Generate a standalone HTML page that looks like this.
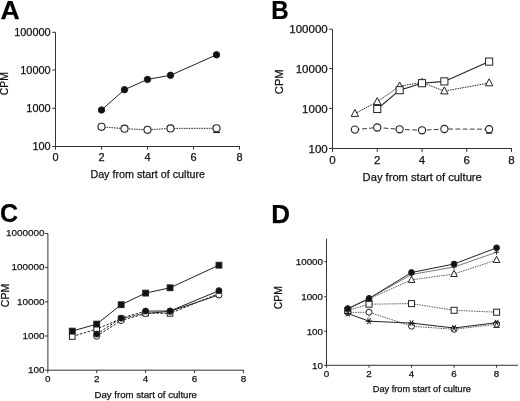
<!DOCTYPE html>
<html><head><meta charset="utf-8"><style>
html,body{margin:0;padding:0;background:#fff;}
svg{display:block;will-change:transform;}
text{font-family:"Liberation Sans", sans-serif;stroke:#111;stroke-width:0.25px;paint-order:stroke;}
</style></head><body>
<svg width="520" height="401" viewBox="0 0 520 401">
<rect width="520" height="401" fill="#fff"/>
<text x="0.4" y="19.4" font-size="26.6" text-anchor="start" font-weight="bold" fill="#000">A</text>
<line x1="55.5" y1="32.3" x2="55.5" y2="146.5" stroke="#333" stroke-width="1.0"/>
<line x1="55.5" y1="146.5" x2="240.0" y2="146.5" stroke="#333" stroke-width="1.0"/>
<line x1="52.3" y1="32.3" x2="55.5" y2="32.3" stroke="#333" stroke-width="1.0"/>
<text x="50.7" y="36.242" font-size="10.95" text-anchor="end" font-weight="normal" fill="#111">100000</text>
<line x1="52.3" y1="70.0" x2="55.5" y2="70.0" stroke="#333" stroke-width="1.0"/>
<text x="50.7" y="73.942" font-size="10.95" text-anchor="end" font-weight="normal" fill="#111">10000</text>
<line x1="52.3" y1="108.3" x2="55.5" y2="108.3" stroke="#333" stroke-width="1.0"/>
<text x="50.7" y="112.24199999999999" font-size="10.95" text-anchor="end" font-weight="normal" fill="#111">1000</text>
<line x1="52.3" y1="146.5" x2="55.5" y2="146.5" stroke="#333" stroke-width="1.0"/>
<text x="50.7" y="150.442" font-size="10.95" text-anchor="end" font-weight="normal" fill="#111">100</text>
<line x1="55.5" y1="146.5" x2="55.5" y2="149.7" stroke="#333" stroke-width="1.0"/>
<text x="55.5" y="161.184" font-size="10.95" text-anchor="middle" font-weight="normal" fill="#111">0</text>
<line x1="101.5" y1="146.5" x2="101.5" y2="149.7" stroke="#333" stroke-width="1.0"/>
<text x="101.5" y="161.184" font-size="10.95" text-anchor="middle" font-weight="normal" fill="#111">2</text>
<line x1="147.5" y1="146.5" x2="147.5" y2="149.7" stroke="#333" stroke-width="1.0"/>
<text x="147.5" y="161.184" font-size="10.95" text-anchor="middle" font-weight="normal" fill="#111">4</text>
<line x1="193.5" y1="146.5" x2="193.5" y2="149.7" stroke="#333" stroke-width="1.0"/>
<text x="193.5" y="161.184" font-size="10.95" text-anchor="middle" font-weight="normal" fill="#111">6</text>
<line x1="239.5" y1="146.5" x2="239.5" y2="149.7" stroke="#333" stroke-width="1.0"/>
<text x="239.5" y="161.184" font-size="10.95" text-anchor="middle" font-weight="normal" fill="#111">8</text>
<text x="90.4" y="178.3" font-size="10.74" text-anchor="start" font-weight="normal" fill="#111">Day from start of culture</text>
<text x="8.4" y="83.6" font-size="10.4" text-anchor="middle" font-weight="normal" fill="#111" transform="rotate(-90 8.4 83.6)">CPM</text>
<polyline points="101.5,110.0 124.5,89.7 147.5,79.4 170.5,75.3 216.5,54.8" fill="none" stroke="#222" stroke-width="1.0"/>
<polyline points="101.5,126.8 124.5,128.7 147.5,129.8 170.5,128.4 216.5,128.3" fill="none" stroke="#222" stroke-width="1.0" stroke-dasharray="1.5,1"/>
<line x1="213.2" y1="132.5" x2="220.0" y2="132.5" stroke="#222" stroke-width="1.1"/>
<circle cx="101.5" cy="110.0" r="3.2" fill="#111" stroke="#222" stroke-width="1.0"/>
<circle cx="124.5" cy="89.7" r="3.2" fill="#111" stroke="#222" stroke-width="1.0"/>
<circle cx="147.5" cy="79.4" r="3.2" fill="#111" stroke="#222" stroke-width="1.0"/>
<circle cx="170.5" cy="75.3" r="3.2" fill="#111" stroke="#222" stroke-width="1.0"/>
<circle cx="216.5" cy="54.8" r="3.2" fill="#111" stroke="#222" stroke-width="1.0"/>
<circle cx="101.5" cy="126.8" r="3.55" fill="#fff" stroke="#222" stroke-width="1.1"/>
<circle cx="124.5" cy="128.7" r="3.55" fill="#fff" stroke="#222" stroke-width="1.1"/>
<circle cx="147.5" cy="129.8" r="3.55" fill="#fff" stroke="#222" stroke-width="1.1"/>
<circle cx="170.5" cy="128.4" r="3.55" fill="#fff" stroke="#222" stroke-width="1.1"/>
<circle cx="216.5" cy="128.3" r="3.55" fill="#fff" stroke="#222" stroke-width="1.1"/>
<g transform="translate(271.3 0) scale(0.93 1) translate(-271.3 0)">
<text x="271.3" y="19.4" font-size="26" text-anchor="start" font-weight="bold" fill="#000">B</text>
</g>
<line x1="332.5" y1="29.2" x2="332.5" y2="148.5" stroke="#333" stroke-width="1.0"/>
<line x1="332.5" y1="148.5" x2="512.0" y2="148.5" stroke="#333" stroke-width="1.0"/>
<line x1="329.1" y1="29.2" x2="332.5" y2="29.2" stroke="#333" stroke-width="1.0"/>
<text x="327.7" y="33.339999999999996" font-size="11.5" text-anchor="end" font-weight="normal" fill="#111">100000</text>
<line x1="329.1" y1="68.6" x2="332.5" y2="68.6" stroke="#333" stroke-width="1.0"/>
<text x="327.7" y="72.74" font-size="11.5" text-anchor="end" font-weight="normal" fill="#111">10000</text>
<line x1="329.1" y1="108.4" x2="332.5" y2="108.4" stroke="#333" stroke-width="1.0"/>
<text x="327.7" y="112.54" font-size="11.5" text-anchor="end" font-weight="normal" fill="#111">1000</text>
<line x1="329.1" y1="148.5" x2="332.5" y2="148.5" stroke="#333" stroke-width="1.0"/>
<text x="327.7" y="152.64" font-size="11.5" text-anchor="end" font-weight="normal" fill="#111">100</text>
<line x1="332.5" y1="148.5" x2="332.5" y2="151.9" stroke="#333" stroke-width="1.0"/>
<text x="332.5" y="163.78" font-size="11.5" text-anchor="middle" font-weight="normal" fill="#111">0</text>
<line x1="377.25" y1="148.5" x2="377.25" y2="151.9" stroke="#333" stroke-width="1.0"/>
<text x="377.25" y="163.78" font-size="11.5" text-anchor="middle" font-weight="normal" fill="#111">2</text>
<line x1="422.0" y1="148.5" x2="422.0" y2="151.9" stroke="#333" stroke-width="1.0"/>
<text x="422.0" y="163.78" font-size="11.5" text-anchor="middle" font-weight="normal" fill="#111">4</text>
<line x1="466.75" y1="148.5" x2="466.75" y2="151.9" stroke="#333" stroke-width="1.0"/>
<text x="466.75" y="163.78" font-size="11.5" text-anchor="middle" font-weight="normal" fill="#111">6</text>
<line x1="511.5" y1="148.5" x2="511.5" y2="151.9" stroke="#333" stroke-width="1.0"/>
<text x="511.5" y="163.78" font-size="11.5" text-anchor="middle" font-weight="normal" fill="#111">8</text>
<text x="362.6" y="181.0" font-size="11.18" text-anchor="start" font-weight="normal" fill="#111">Day from start of culture</text>
<text x="283.0" y="81.75" font-size="11.2" text-anchor="middle" font-weight="normal" fill="#111" transform="rotate(-90 283.0 81.75)">CPM</text>
<polyline points="354.875,113.6 377.25,101.8 399.625,86.2 422.0,82.5 444.375,91.1 489.125,83.0" fill="none" stroke="#222" stroke-width="1.0" stroke-dasharray="1.5,1"/>
<polyline points="377.25,109.0 399.625,90.2 422.0,83.2 444.375,81.4 489.125,61.6" fill="none" stroke="#222" stroke-width="1.1"/>
<polyline points="354.875,129.6 377.25,127.5 399.625,129.3 422.0,130.3 444.375,129.0 489.125,129.2" fill="none" stroke="#222" stroke-width="0.9" stroke-dasharray="4.8,2.4"/>
<line x1="485.925" y1="133.2" x2="492.325" y2="133.2" stroke="#222" stroke-width="1.0"/>
<polygon points="354.875,109.38199999999999 351.175,116.41199999999999 358.575,116.41199999999999" fill="#fff" stroke="#222" stroke-width="1.0"/>
<polygon points="377.25,97.582 373.55,104.612 380.95,104.612" fill="#fff" stroke="#222" stroke-width="1.0"/>
<polygon points="399.625,81.982 395.925,89.012 403.325,89.012" fill="#fff" stroke="#222" stroke-width="1.0"/>
<polygon points="422.0,78.282 418.3,85.312 425.7,85.312" fill="#fff" stroke="#222" stroke-width="1.0"/>
<polygon points="444.375,86.88199999999999 440.675,93.91199999999999 448.075,93.91199999999999" fill="#fff" stroke="#222" stroke-width="1.0"/>
<polygon points="489.125,78.782 485.425,85.812 492.825,85.812" fill="#fff" stroke="#222" stroke-width="1.0"/>
<rect x="373.7" y="105.45" width="7.1" height="7.1" fill="#fff" stroke="#222" stroke-width="1.0"/>
<rect x="396.075" y="86.65" width="7.1" height="7.1" fill="#fff" stroke="#222" stroke-width="1.0"/>
<rect x="418.45" y="79.65" width="7.1" height="7.1" fill="#fff" stroke="#222" stroke-width="1.0"/>
<rect x="440.825" y="77.85000000000001" width="7.1" height="7.1" fill="#fff" stroke="#222" stroke-width="1.0"/>
<rect x="485.575" y="58.050000000000004" width="7.1" height="7.1" fill="#fff" stroke="#222" stroke-width="1.0"/>
<circle cx="354.875" cy="129.6" r="3.6" fill="#fff" stroke="#222" stroke-width="1.1"/>
<circle cx="377.25" cy="127.5" r="3.6" fill="#fff" stroke="#222" stroke-width="1.1"/>
<circle cx="399.625" cy="129.3" r="3.6" fill="#fff" stroke="#222" stroke-width="1.1"/>
<circle cx="422.0" cy="130.3" r="3.6" fill="#fff" stroke="#222" stroke-width="1.1"/>
<circle cx="444.375" cy="129.0" r="3.6" fill="#fff" stroke="#222" stroke-width="1.1"/>
<circle cx="489.125" cy="129.2" r="3.6" fill="#fff" stroke="#222" stroke-width="1.1"/>
<text x="0.0" y="222.4" font-size="25" text-anchor="start" font-weight="bold" fill="#000">C</text>
<line x1="47.9" y1="233.5" x2="47.9" y2="370.2" stroke="#333" stroke-width="1.0"/>
<line x1="47.9" y1="370.2" x2="243.9" y2="370.2" stroke="#333" stroke-width="1.0"/>
<line x1="45.1" y1="233.5" x2="47.9" y2="233.5" stroke="#333" stroke-width="1.0"/>
<text x="44.4" y="236.364" font-size="9.9" text-anchor="end" font-weight="normal" fill="#111">1000000</text>
<line x1="45.1" y1="267.6" x2="47.9" y2="267.6" stroke="#333" stroke-width="1.0"/>
<text x="44.4" y="270.46400000000006" font-size="9.9" text-anchor="end" font-weight="normal" fill="#111">100000</text>
<line x1="45.1" y1="301.9" x2="47.9" y2="301.9" stroke="#333" stroke-width="1.0"/>
<text x="44.4" y="304.764" font-size="9.9" text-anchor="end" font-weight="normal" fill="#111">10000</text>
<line x1="45.1" y1="336.0" x2="47.9" y2="336.0" stroke="#333" stroke-width="1.0"/>
<text x="44.4" y="338.86400000000003" font-size="9.9" text-anchor="end" font-weight="normal" fill="#111">1000</text>
<line x1="45.1" y1="370.2" x2="47.9" y2="370.2" stroke="#333" stroke-width="1.0"/>
<text x="44.4" y="373.064" font-size="9.9" text-anchor="end" font-weight="normal" fill="#111">100</text>
<line x1="47.8" y1="370.2" x2="47.8" y2="373.0" stroke="#333" stroke-width="1.0"/>
<text x="47.8" y="382.328" font-size="9.9" text-anchor="middle" font-weight="normal" fill="#111">0</text>
<line x1="96.69999999999999" y1="370.2" x2="96.69999999999999" y2="373.0" stroke="#333" stroke-width="1.0"/>
<text x="96.69999999999999" y="382.328" font-size="9.9" text-anchor="middle" font-weight="normal" fill="#111">2</text>
<line x1="145.6" y1="370.2" x2="145.6" y2="373.0" stroke="#333" stroke-width="1.0"/>
<text x="145.6" y="382.328" font-size="9.9" text-anchor="middle" font-weight="normal" fill="#111">4</text>
<line x1="194.5" y1="370.2" x2="194.5" y2="373.0" stroke="#333" stroke-width="1.0"/>
<text x="194.5" y="382.328" font-size="9.9" text-anchor="middle" font-weight="normal" fill="#111">6</text>
<line x1="243.39999999999998" y1="370.2" x2="243.39999999999998" y2="373.0" stroke="#333" stroke-width="1.0"/>
<text x="243.39999999999998" y="382.328" font-size="9.9" text-anchor="middle" font-weight="normal" fill="#111">8</text>
<text x="94.6" y="397.9" font-size="9.6" text-anchor="start" font-weight="normal" fill="#111">Day from start of culture</text>
<text x="8.7" y="295.5" font-size="10.6" text-anchor="middle" font-weight="normal" fill="#111" transform="rotate(-90 8.7 295.5)">CPM</text>
<polyline points="72.25,331.1 96.69999999999999,324.1 121.14999999999999,304.7 145.6,293.1 170.05,287.8 218.95,265.2" fill="none" stroke="#222" stroke-width="1.0"/>
<polyline points="72.25,336.5 96.69999999999999,329.0 121.14999999999999,318.8 145.6,313.0 170.05,313.4 218.95,293.5" fill="none" stroke="#222" stroke-width="1.0" stroke-dasharray="2.5,1.5"/>
<polyline points="96.69999999999999,334.1 121.14999999999999,318.2 145.6,311.1" fill="none" stroke="#222" stroke-width="1.0" stroke-dasharray="2.5,1.5"/>
<polyline points="145.6,311.1 170.05,311.0 218.95,290.7" fill="none" stroke="#222" stroke-width="1.0"/>
<polyline points="96.69999999999999,336.2 121.14999999999999,320.5 145.6,313.6" fill="none" stroke="#222" stroke-width="1.0" stroke-dasharray="2.5,1.5"/>
<polyline points="145.6,313.6 170.05,311.3 218.95,294.9" fill="none" stroke="#222" stroke-width="1.0"/>
<rect x="69.45" y="333.7" width="5.6" height="5.6" fill="#fff" stroke="#222" stroke-width="1.0"/>
<rect x="93.89999999999999" y="326.2" width="5.6" height="5.6" fill="#fff" stroke="#222" stroke-width="1.0"/>
<rect x="118.35" y="316.0" width="5.6" height="5.6" fill="#fff" stroke="#222" stroke-width="1.0"/>
<rect x="142.79999999999998" y="310.2" width="5.6" height="5.6" fill="#fff" stroke="#222" stroke-width="1.0"/>
<rect x="167.25" y="310.59999999999997" width="5.6" height="5.6" fill="#fff" stroke="#222" stroke-width="1.0"/>
<circle cx="96.69999999999999" cy="336.2" r="3.1" fill="#fff" stroke="#222" stroke-width="1.0"/>
<circle cx="121.14999999999999" cy="320.5" r="3.1" fill="#fff" stroke="#222" stroke-width="1.0"/>
<circle cx="145.6" cy="313.6" r="3.1" fill="#fff" stroke="#222" stroke-width="1.0"/>
<circle cx="170.05" cy="311.3" r="3.1" fill="#fff" stroke="#222" stroke-width="1.0"/>
<circle cx="218.95" cy="294.9" r="3.1" fill="#fff" stroke="#222" stroke-width="1.0"/>
<circle cx="96.69999999999999" cy="334.1" r="3.0" fill="#111" stroke="#222" stroke-width="1.0"/>
<circle cx="121.14999999999999" cy="318.2" r="3.0" fill="#111" stroke="#222" stroke-width="1.0"/>
<circle cx="145.6" cy="311.1" r="3.0" fill="#111" stroke="#222" stroke-width="1.0"/>
<circle cx="170.05" cy="311.0" r="3.0" fill="#111" stroke="#222" stroke-width="1.0"/>
<circle cx="218.95" cy="290.7" r="3.0" fill="#111" stroke="#222" stroke-width="1.0"/>
<rect x="69.35" y="328.20000000000005" width="5.8" height="5.8" fill="#111" stroke="#222" stroke-width="1.0"/>
<rect x="93.79999999999998" y="321.20000000000005" width="5.8" height="5.8" fill="#111" stroke="#222" stroke-width="1.0"/>
<rect x="118.24999999999999" y="301.8" width="5.8" height="5.8" fill="#111" stroke="#222" stroke-width="1.0"/>
<rect x="142.7" y="290.20000000000005" width="5.8" height="5.8" fill="#111" stroke="#222" stroke-width="1.0"/>
<rect x="167.15" y="284.90000000000003" width="5.8" height="5.8" fill="#111" stroke="#222" stroke-width="1.0"/>
<rect x="216.04999999999998" y="262.3" width="5.8" height="5.8" fill="#111" stroke="#222" stroke-width="1.0"/>
<text x="271.2" y="222.6" font-size="26" text-anchor="start" font-weight="bold" fill="#000">D</text>
<line x1="326.5" y1="238.8" x2="326.5" y2="365.3" stroke="#333" stroke-width="1.0"/>
<line x1="326.5" y1="365.3" x2="518.0" y2="365.3" stroke="#333" stroke-width="1.0"/>
<line x1="324.1" y1="261.8" x2="326.5" y2="261.8" stroke="#333" stroke-width="1.0"/>
<text x="323.0" y="265.32800000000003" font-size="9.8" text-anchor="end" font-weight="normal" fill="#111">10000</text>
<line x1="324.1" y1="296.8" x2="326.5" y2="296.8" stroke="#333" stroke-width="1.0"/>
<text x="323.0" y="300.32800000000003" font-size="9.8" text-anchor="end" font-weight="normal" fill="#111">1000</text>
<line x1="324.1" y1="331.2" x2="326.5" y2="331.2" stroke="#333" stroke-width="1.0"/>
<text x="323.0" y="334.728" font-size="9.8" text-anchor="end" font-weight="normal" fill="#111">100</text>
<line x1="324.1" y1="365.3" x2="326.5" y2="365.3" stroke="#333" stroke-width="1.0"/>
<text x="323.0" y="368.82800000000003" font-size="9.8" text-anchor="end" font-weight="normal" fill="#111">10</text>
<line x1="326.5" y1="365.3" x2="326.5" y2="367.7" stroke="#333" stroke-width="1.0"/>
<text x="326.5" y="377.156" font-size="9.8" text-anchor="middle" font-weight="normal" fill="#111">0</text>
<line x1="369.02" y1="365.3" x2="369.02" y2="367.7" stroke="#333" stroke-width="1.0"/>
<text x="369.02" y="377.156" font-size="9.8" text-anchor="middle" font-weight="normal" fill="#111">2</text>
<line x1="411.54" y1="365.3" x2="411.54" y2="367.7" stroke="#333" stroke-width="1.0"/>
<text x="411.54" y="377.156" font-size="9.8" text-anchor="middle" font-weight="normal" fill="#111">4</text>
<line x1="454.06" y1="365.3" x2="454.06" y2="367.7" stroke="#333" stroke-width="1.0"/>
<text x="454.06" y="377.156" font-size="9.8" text-anchor="middle" font-weight="normal" fill="#111">6</text>
<line x1="496.58000000000004" y1="365.3" x2="496.58000000000004" y2="367.7" stroke="#333" stroke-width="1.0"/>
<text x="496.58000000000004" y="377.156" font-size="9.8" text-anchor="middle" font-weight="normal" fill="#111">8</text>
<text x="372.8" y="391.9" font-size="9.2" text-anchor="start" font-weight="normal" fill="#111">Day from start of culture</text>
<text x="282.0" y="297.7" font-size="10.4" text-anchor="middle" font-weight="normal" fill="#111" transform="rotate(-90 282.0 297.7)">CPM</text>
<polyline points="347.76,308.6 369.02,298.4 411.54,272.5 454.06,264.0 496.58000000000004,247.8" fill="none" stroke="#222" stroke-width="1.0"/>
<polyline points="347.76,309.0 369.02,298.6 411.54,274.5 454.06,267.0 496.58000000000004,252.2" fill="none" stroke="#555" stroke-width="0.8"/>
<polyline points="347.76,309.0 369.02,298.8 411.54,279.9 454.06,274.0 496.58000000000004,260.0" fill="none" stroke="#444" stroke-width="0.9" stroke-dasharray="1.5,1"/>
<polyline points="347.76,310.5 369.02,304.2 411.54,303.6 454.06,310.3 496.58000000000004,312.2" fill="none" stroke="#444" stroke-width="0.9" stroke-dasharray="1.5,1"/>
<polyline points="347.76,312.5 369.02,312.2 411.54,326.2 454.06,329.3 496.58000000000004,324.2" fill="none" stroke="#444" stroke-width="0.9" stroke-dasharray="1.5,1"/>
<line x1="369.02" y1="315.3" x2="369.02" y2="320.0" stroke="#999" stroke-width="1.0"/>
<polyline points="347.76,313.5 369.02,321.2 411.54,323.1 454.06,328.0 496.58000000000004,322.7" fill="none" stroke="#222" stroke-width="1.0"/>
<polygon points="347.76,305.238 344.46,311.508 351.06,311.508" fill="#fff" stroke="#222" stroke-width="1.0"/>
<polygon points="369.02,295.038 365.71999999999997,301.308 372.32,301.308" fill="#fff" stroke="#222" stroke-width="1.0"/>
<polygon points="411.54,276.138 408.24,282.40799999999996 414.84000000000003,282.40799999999996" fill="#fff" stroke="#222" stroke-width="1.0"/>
<polygon points="454.06,270.238 450.76,276.508 457.36,276.508" fill="#fff" stroke="#222" stroke-width="1.0"/>
<polygon points="496.58000000000004,256.238 493.28000000000003,262.508 499.88000000000005,262.508" fill="#fff" stroke="#222" stroke-width="1.0"/>
<path d="M345.26,309.0H350.26M347.76,306.5V311.5" stroke="#222" stroke-width="1.0" fill="none"/>
<path d="M366.52,298.6H371.52M369.02,296.1V301.1" stroke="#222" stroke-width="1.0" fill="none"/>
<path d="M409.04,274.5H414.04M411.54,272.0V277.0" stroke="#222" stroke-width="1.0" fill="none"/>
<path d="M451.56,267.0H456.56M454.06,264.5V269.5" stroke="#222" stroke-width="1.0" fill="none"/>
<path d="M494.08000000000004,252.2H499.08000000000004M496.58000000000004,249.7V254.7" stroke="#222" stroke-width="1.0" fill="none"/>
<rect x="344.76" y="307.5" width="6.0" height="6.0" fill="#fff" stroke="#222" stroke-width="1.0"/>
<rect x="366.02" y="301.2" width="6.0" height="6.0" fill="#fff" stroke="#222" stroke-width="1.0"/>
<rect x="408.54" y="300.6" width="6.0" height="6.0" fill="#fff" stroke="#222" stroke-width="1.0"/>
<rect x="451.06" y="307.3" width="6.0" height="6.0" fill="#fff" stroke="#222" stroke-width="1.0"/>
<rect x="493.58000000000004" y="309.2" width="6.0" height="6.0" fill="#fff" stroke="#222" stroke-width="1.0"/>
<circle cx="347.76" cy="312.5" r="3.0" fill="#fff" stroke="#222" stroke-width="1.0"/>
<circle cx="369.02" cy="312.2" r="3.0" fill="#fff" stroke="#222" stroke-width="1.0"/>
<circle cx="411.54" cy="326.2" r="3.0" fill="#fff" stroke="#222" stroke-width="1.0"/>
<circle cx="454.06" cy="329.3" r="3.0" fill="#fff" stroke="#222" stroke-width="1.0"/>
<circle cx="496.58000000000004" cy="324.2" r="3.0" fill="#fff" stroke="#222" stroke-width="1.0"/>
<path d="M344.46,313.50L351.06,313.50M346.11,310.64L349.41,316.36M349.41,310.64L346.11,316.36" stroke="#111" stroke-width="1.0" fill="none"/>
<path d="M365.72,321.20L372.32,321.20M367.37,318.34L370.67,324.06M370.67,318.34L367.37,324.06" stroke="#111" stroke-width="1.0" fill="none"/>
<path d="M408.24,323.10L414.84,323.10M409.89,320.24L413.19,325.96M413.19,320.24L409.89,325.96" stroke="#111" stroke-width="1.0" fill="none"/>
<path d="M450.76,328.00L457.36,328.00M452.41,325.14L455.71,330.86M455.71,325.14L452.41,330.86" stroke="#111" stroke-width="1.0" fill="none"/>
<path d="M493.28,322.70L499.88,322.70M494.93,319.84L498.23,325.56M498.23,319.84L494.93,325.56" stroke="#111" stroke-width="1.0" fill="none"/>
<line x1="493.38000000000005" y1="327.4" x2="499.78000000000003" y2="327.4" stroke="#222" stroke-width="1.0"/>
<circle cx="347.76" cy="308.6" r="2.9" fill="#111" stroke="#222" stroke-width="1.0"/>
<circle cx="369.02" cy="298.4" r="2.9" fill="#111" stroke="#222" stroke-width="1.0"/>
<circle cx="411.54" cy="272.5" r="2.9" fill="#111" stroke="#222" stroke-width="1.0"/>
<circle cx="454.06" cy="264.0" r="2.9" fill="#111" stroke="#222" stroke-width="1.0"/>
<circle cx="496.58000000000004" cy="247.8" r="2.9" fill="#111" stroke="#222" stroke-width="1.0"/>
</svg>
</body></html>
